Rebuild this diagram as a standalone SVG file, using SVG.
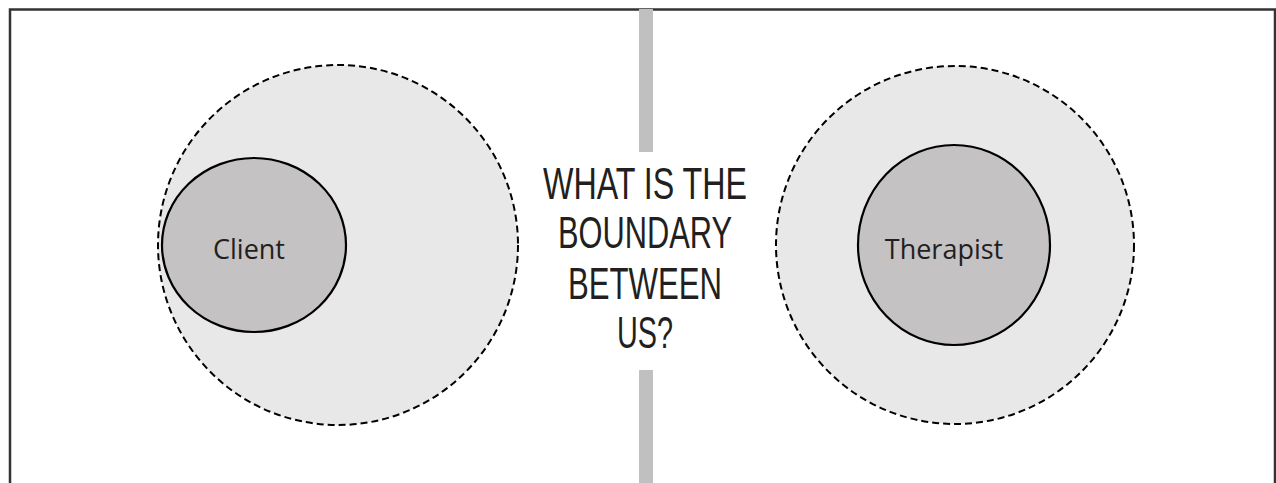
<svg xmlns="http://www.w3.org/2000/svg" width="1276" height="483" viewBox="0 0 1276 483">
<style>
.outer{fill:#e8e8e8;stroke:#000;stroke-width:2;stroke-dasharray:7 4}
.inner{fill:#c4c2c3;stroke:#000;stroke-width:2.2}
.lbl{font-family:"Open Sans","Liberation Sans",sans-serif;font-size:27px;fill:#231f20;text-anchor:middle}
.q{font-family:"Liberation Sans",sans-serif;font-size:44px;fill:#231f20;text-anchor:middle}
.bar{fill:#c0c0c0}
</style>
<rect width="1276" height="483" fill="#fff"/>
<path d="M10,483 V9.5 H1275 V483" fill="none" stroke="#333" stroke-width="2.5"/>
<g id="divider">
<rect class="bar" x="639" y="9" width="14" height="143"/>
<rect class="bar" x="639" y="370" width="14" height="113"/>
</g>
<g id="client-space">
<circle class="outer" cx="338" cy="245" r="180"/>
</g>
<g id="client">
<ellipse class="inner" cx="254" cy="245" rx="92" ry="87"/>
<text class="lbl" x="249" y="259">Client</text>
</g>
<g id="therapist-space">
<circle class="outer" cx="955" cy="245" r="179"/>
</g>
<g id="therapist">
<ellipse class="inner" cx="954" cy="245" rx="96" ry="100"/>
<text class="lbl" x="944" y="259">Therapist</text>
</g>
<g id="question">
<text class="q" x="645" y="199" textLength="204" lengthAdjust="spacingAndGlyphs">WHAT IS THE</text>
<text class="q" x="645" y="248" textLength="174" lengthAdjust="spacingAndGlyphs">BOUNDARY</text>
<text class="q" x="645" y="299" textLength="154" lengthAdjust="spacingAndGlyphs">BETWEEN</text>
<text class="q" x="645" y="348" textLength="56" lengthAdjust="spacingAndGlyphs">US?</text>
</g>
<g id="connectors"/>
</svg>
